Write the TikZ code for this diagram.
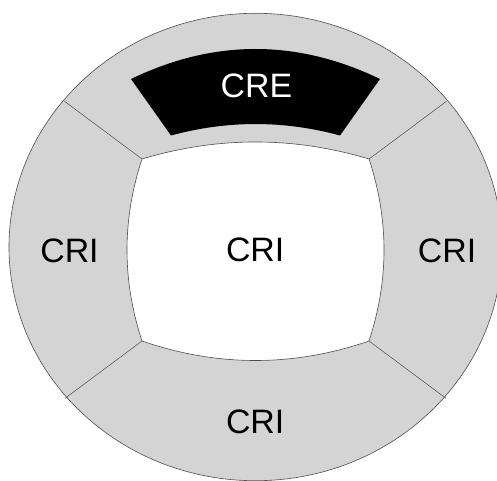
\documentclass[tikz,border=0pt]{standalone}
\usepackage{fontspec}
\setmainfont{Liberation Sans}
\usetikzlibrary{positioning}
\definecolor{cring}{HTML}{D4D4D4}
\definecolor{cedge}{HTML}{4D4D4D}
\tikzset{
  every picture/.style={line width=0.6pt},
  ring/.style={fill=cring, draw=cedge, line width=0.6pt},
  hole/.style={fill=white, draw=cedge, line width=0.6pt},
  crepatch/.style={fill=black, draw=none},
  divider/.style={draw=cedge, line width=0.5pt},
  zone/.style={font=\fontsize{34}{40}\selectfont, inner sep=0pt},
}
\begin{document}
\begin{tikzpicture}[x=1bp, y=-1bp]
  \path[use as bounding box, fill=white] (0,0) rectangle (497,481);
  % outer ring
  \coordinate (o) at (255.5,247);
  \draw[ring] (o) ellipse [x radius=246.5bp, y radius=233.7bp];
  % inner hole
  \coordinate (tl) at (142,159);
  \coordinate (tr) at (369,159);
  \coordinate (br) at (369,341);
  \coordinate (bl) at (142,341);
  \draw[hole] (tl) .. controls (217.7,136.3) and (293.3,136.3) .. (tr)
    .. controls (389,219.7) and (389,280.3) .. (br)
    .. controls (293.3,367) and (217.7,367) .. (bl)
    .. controls (122,280.3) and (122,219.7) .. cycle;
  % CRE patch
  \coordinate (ctl) at (131,79);
  \coordinate (ctr) at (380,79);
  \coordinate (cbr) at (340,135.5);
  \coordinate (cbl) at (171,135.5);
  \fill[crepatch] (ctl) .. controls (214,39) and (297,39) .. (ctr) -- (cbr)
    .. controls (283.7,120.2) and (227.3,120.2) .. (cbl) -- cycle;
  % spokes
  \coordinate (etl) at (64.5,101.3);
  \coordinate (etr) at (446.5,101.3);
  \coordinate (ebl) at (65,398.3);
  \coordinate (ebr) at (446,398.3);
  \draw[divider] (tl) -- (etl);
  \draw[divider] (tr) -- (etr);
  \draw[divider] (bl) -- (ebl);
  \draw[divider] (br) -- (ebr);
  % labels
  \node[zone, text=white] (cre) at (256.5,86) {CRE};
  \node[zone] (crileft) at (69.5,251) {CRI};
  \node[zone] (crimid) at (255.2,250) {CRI};
  \node[zone] (criright) at (447,251) {CRI};
  \node[zone] (cribottom) at (255.2,421.5) {CRI};
\end{tikzpicture}
\end{document}
